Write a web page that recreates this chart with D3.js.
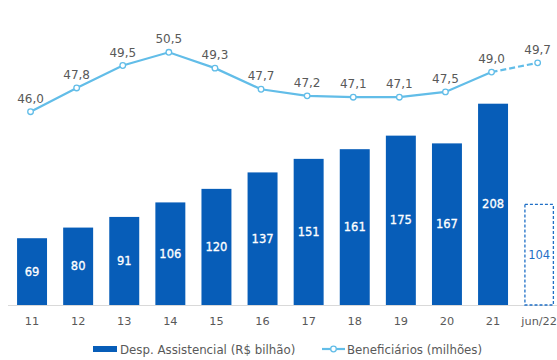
<!DOCTYPE html>
<html><head><meta charset="utf-8">
<script src="https://cdn.jsdelivr.net/npm/d3@7"></script>
<style>body{margin:0;background:#fff}svg{display:block}text{font-family:"DejaVu Sans",Verdana,sans-serif}</style>
</head><body>
<svg id="c" width="557" height="360"></svg>
<script>
const categories = ["11","12","13","14","15","16","17","18","19","20","21","jun/22"];
const despesa = [69,80,91,106,120,137,151,161,175,167,208,104];
const beneficiarios = [46.0,47.8,49.5,50.5,49.3,47.7,47.2,47.1,47.1,47.5,49.0,49.7];
const partialIndex = 11; // last category is partial (jun/22)
const legendLabels = ["Desp. Assistencial (R$ bilhão)","Beneficiários (milhões)"];

const svg = d3.select("#c");
const barColor = "#075DB8", lineColor = "#62BDE8", textGray = "#595959";
const fmt = v => v.toFixed(1).replace(".", ",");

const x = d3.scaleBand().domain(categories).range([9, 562.2]).paddingInner(0.35).paddingOuter(0.175);
const yBar = d3.scaleLinear().domain([0, 208]).range([305, 103.7]);
const yLine = d3.scaleLinear().domain([46.0, 50.5]).range([111.7, 52.3]);

// axis line
svg.append("line").attr("x1", 8).attr("x2", 557).attr("y1", 305.5).attr("y2", 305.5)
  .attr("stroke", "#D9D9D9").attr("stroke-width", 1);

// x axis labels
const xAxis = d3.axisBottom(x).tickSize(0).tickPadding(12);
const gx = svg.append("g").attr("transform", "translate(0,305)").call(xAxis);
gx.select(".domain").remove();
gx.selectAll("text").attr("fill", textGray).attr("font-size", 11.3).attr("font-family", "DejaVu Sans");

// bars
const data = categories.map((c, i) => ({c, v: despesa[i], b: beneficiarios[i], partial: i === partialIndex}));
svg.selectAll("rect.bar").data(data).join("rect").attr("class", "bar")
  .attr("x", d => x(d.c) + (d.partial ? 0.75 : 0))
  .attr("y", d => yBar(d.v))
  .attr("width", d => x.bandwidth() - (d.partial ? 1.5 : 0))
  .attr("height", d => yBar(0) - yBar(d.v))
  .attr("fill", d => d.partial ? "#fff" : barColor)
  .attr("stroke", d => d.partial ? "#1F6FC6" : "none")
  .attr("stroke-width", 1.3)
  .attr("stroke-dasharray", d => d.partial ? "3,2" : null);

svg.selectAll("text.blab").data(data).join("text").attr("class", "blab")
  .attr("x", d => x(d.c) + x.bandwidth() / 2)
  .attr("y", d => (yBar(d.v) + yBar(0)) / 2 + 4)
  .attr("text-anchor", "middle").attr("font-size", 11.5)
  .attr("fill", d => d.partial ? "#1F6FC6" : "#fff")
  .attr("stroke", d => d.partial ? "none" : "#fff").attr("stroke-width", 0.3)
  .text(d => d.v);

// line
const cx = d => x(d.c) + x.bandwidth() / 2 - 1.5;
const line = d3.line().x(cx).y(d => yLine(d.b));
svg.append("path").datum(data.slice(0, partialIndex)).attr("d", line)
  .attr("fill", "none").attr("stroke", lineColor).attr("stroke-width", 2.2);
svg.append("path").datum(data.slice(partialIndex - 1)).attr("d", line)
  .attr("fill", "none").attr("stroke", lineColor).attr("stroke-width", 2.2).attr("stroke-dasharray", "6,3");

svg.selectAll("circle.pt").data(data).join("circle").attr("class", "pt")
  .attr("cx", cx).attr("cy", d => yLine(d.b)).attr("r", 2.8)
  .attr("fill", "#fff").attr("stroke", lineColor).attr("stroke-width", 1.3);

svg.selectAll("text.llab").data(data).join("text").attr("class", "llab")
  .attr("x", cx).attr("y", d => yLine(d.b) - 9)
  .attr("text-anchor", "middle").attr("font-size", 12).attr("fill", textGray)
  .text(d => fmt(d.b));

// legend
const lg = svg.append("g");
lg.append("rect").attr("x", 93).attr("y", 346).attr("width", 24).attr("height", 6).attr("fill", barColor);
lg.append("text").attr("x", 120).attr("y", 353.5).attr("font-size", 11.8).attr("fill", textGray).text(legendLabels[0]);
lg.append("line").attr("x1", 322).attr("x2", 345).attr("y1", 349).attr("y2", 349).attr("stroke", lineColor).attr("stroke-width", 2.2);
lg.append("circle").attr("cx", 333.5).attr("cy", 349).attr("r", 2.8).attr("fill", "#fff").attr("stroke", lineColor).attr("stroke-width", 1.3);
lg.append("text").attr("x", 347).attr("y", 353.5).attr("font-size", 11.8).attr("fill", textGray).text(legendLabels[1]);
</script>
</body></html>
